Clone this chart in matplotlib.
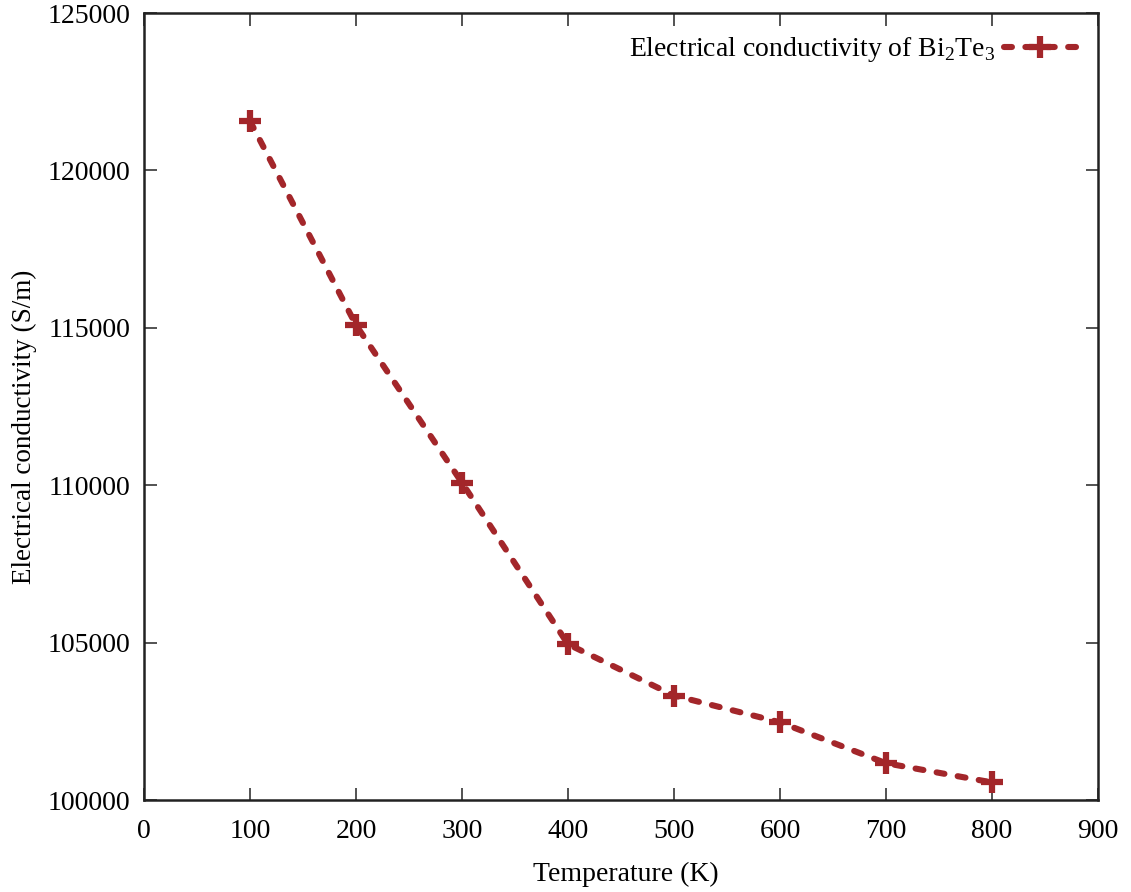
import matplotlib.pyplot as plt

# Bi2Te3 conductivity vs temperature
temperature = [100, 200, 300, 400, 500, 600, 700, 800]
conductivity = [121570, 115090, 110080, 104950, 103320, 102470, 101170, 100560]

xticks = list(range(0, 1000, 100))
yticks = list(range(100000, 130000, 5000))

plt.rcParams['font.family'] = ['Liberation Serif', 'DejaVu Serif']
plt.rcParams['mathtext.fontset'] = 'custom'
plt.rcParams['mathtext.rm'] = 'Liberation Serif'

fig = plt.figure(figsize=(11.31, 8.92), dpi=100)
ax = fig.add_axes([0.1273, 0.1031, 0.8435, 0.8823])

ax.plot(temperature, conductivity, color='#a3262a', linewidth=4.4,
        linestyle=(0, (1.3, 2.2)), dash_capstyle='round',
        marker='+', markersize=16, markeredgewidth=4.5,
        label=r'Electrical conductivity of Bi$_2$Te$_3$')

ax.set_xlim(0, 900)
ax.set_ylim(100000, 125000)
ax.set_xticks(xticks)
ax.set_yticks(yticks)
ax.tick_params(direction='in', length=9, width=1.3, color='#444444',
               top=True, right=True, labelsize=20)
ax.tick_params(axis='x', pad=14)
ax.tick_params(axis='y', pad=10)
for s in ax.spines.values():
    s.set_linewidth(1.8)
    s.set_color('#222222')

ax.set_xlabel('Temperature (K)', fontsize=20, va='center')
ax.xaxis.set_label_coords(0.505, -0.095)
ax.set_ylabel('Electrical conductivity (S/m)', fontsize=19.5, va='center')
ax.yaxis.set_label_coords(-0.125, 0.474)

ax.legend(loc='upper right', frameon=False, markerfirst=False, fontsize=20,
          handlelength=2.6, handletextpad=0.3, borderaxespad=0.4)

fig.savefig('out.png', dpi=100)
